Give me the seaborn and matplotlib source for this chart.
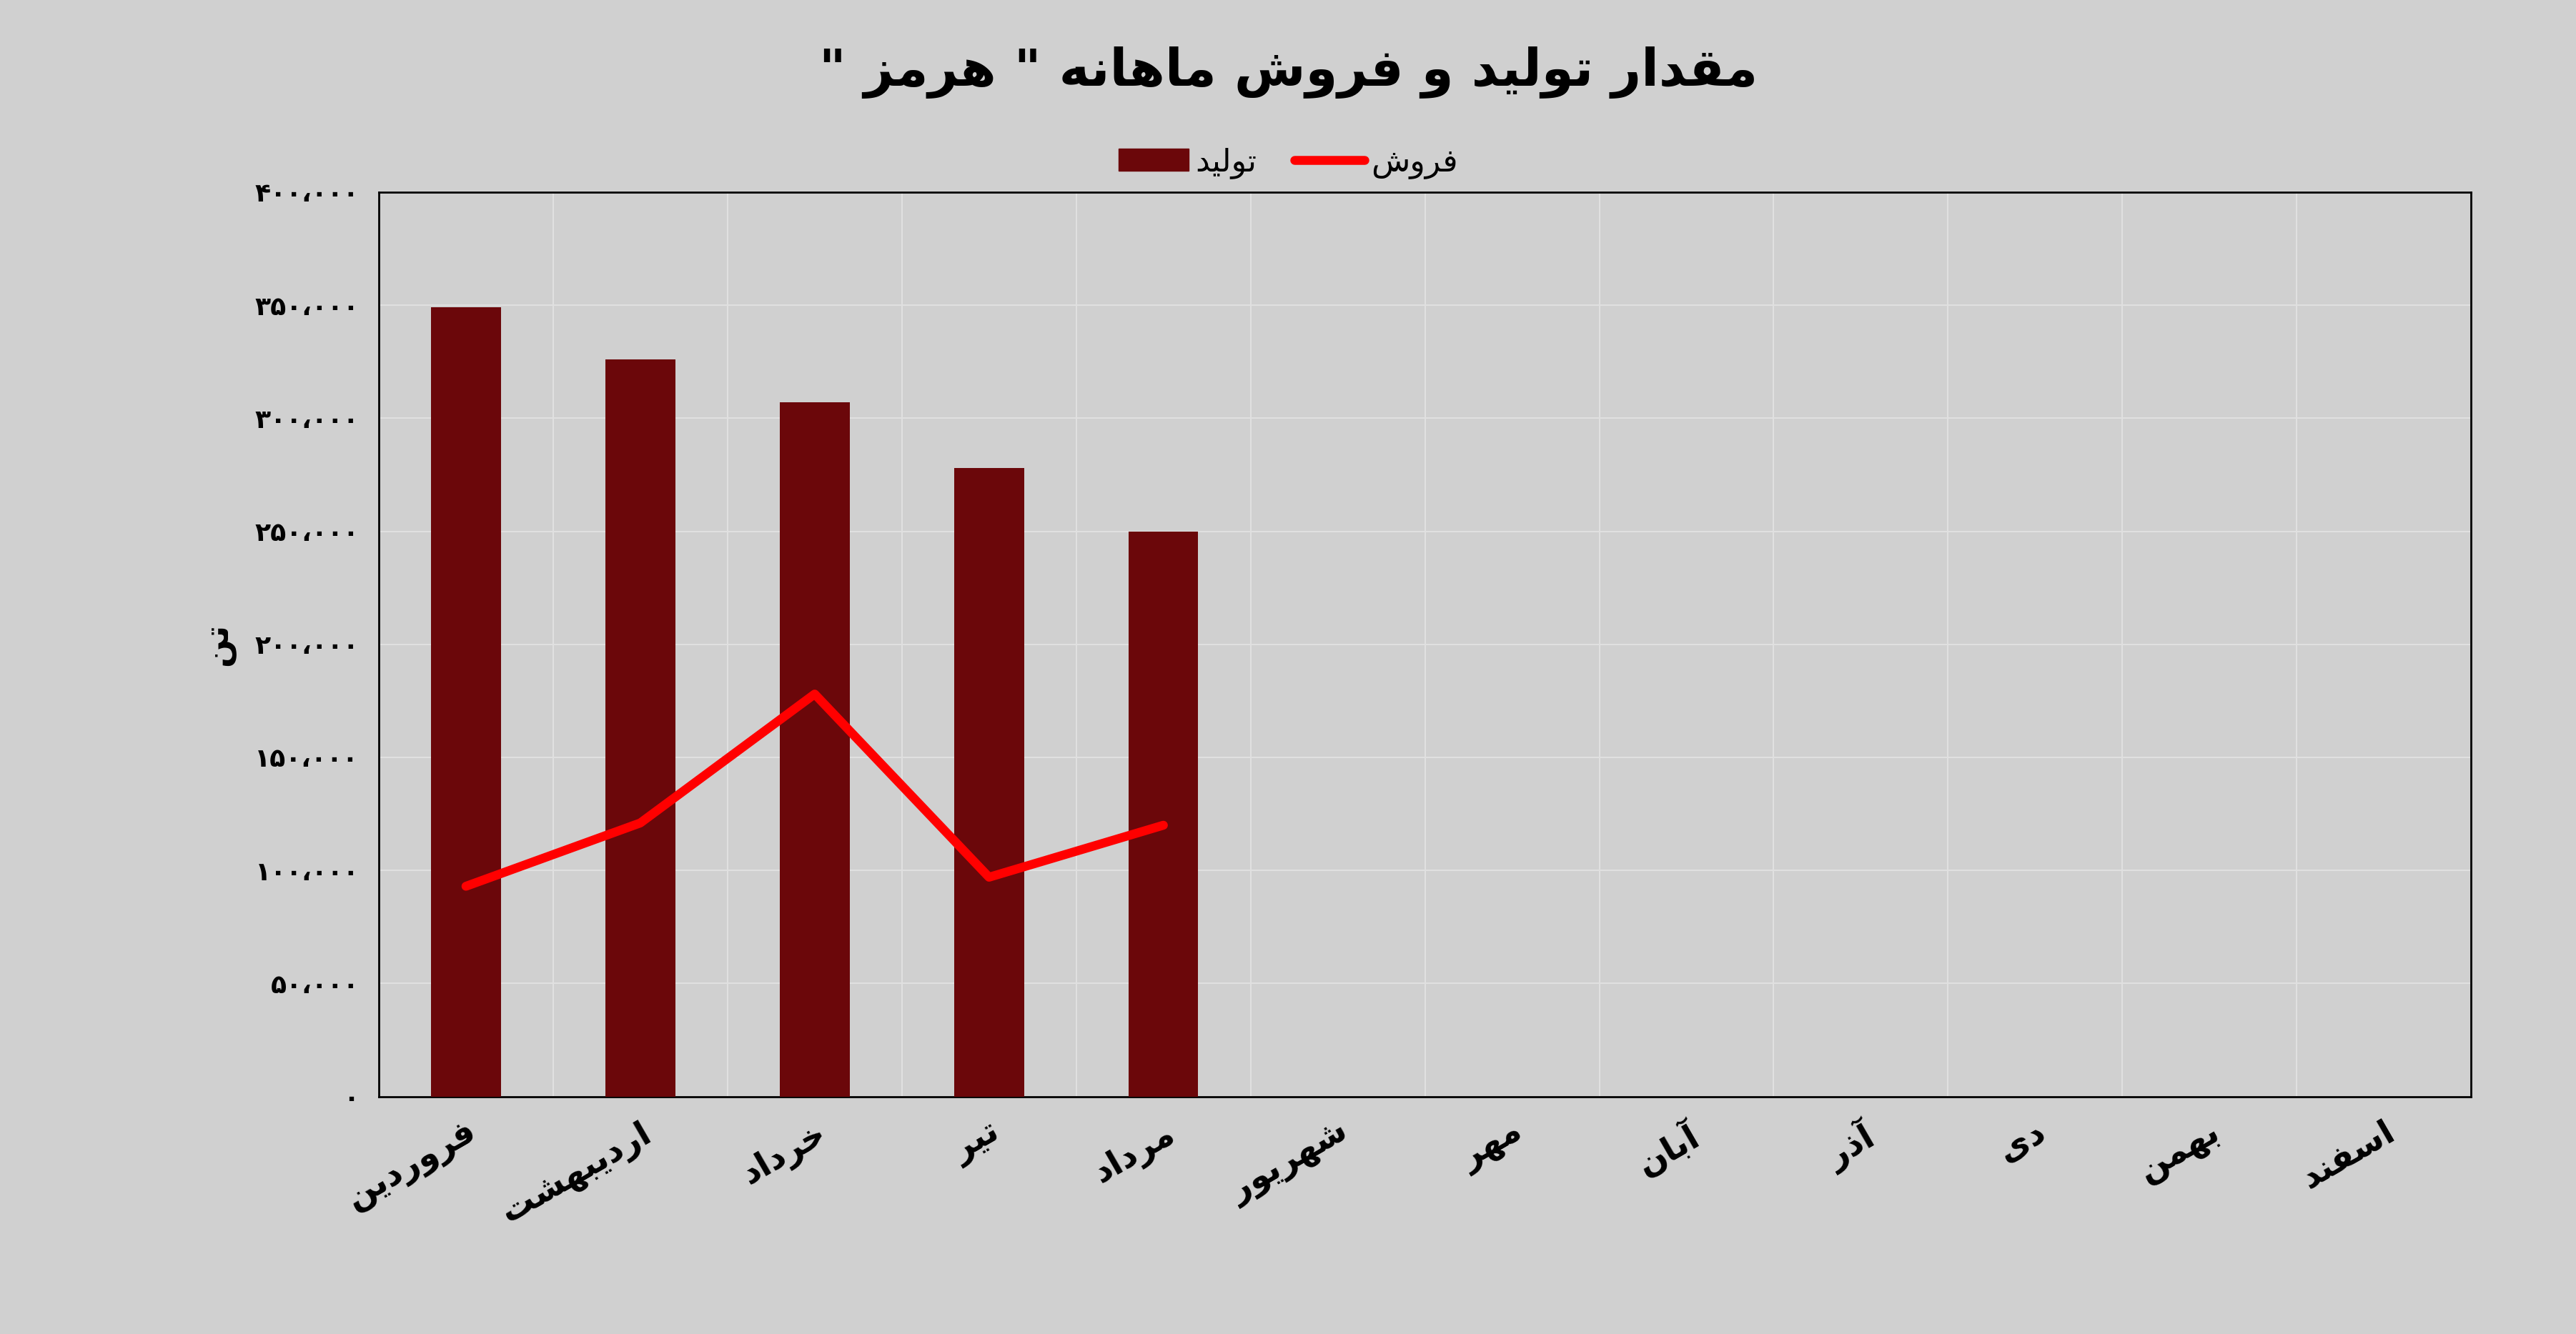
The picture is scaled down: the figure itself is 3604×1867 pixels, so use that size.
import numpy as np
import pandas as pd
import seaborn as sns
import matplotlib.pyplot as plt

# Persian text shaping without external libs: presentation forms + RTL reversal
FORMS = {
    '\u0627': ('\ufe8d', '\ufe8e', None, None),
    '\u0622': ('\ufe81', '\ufe82', None, None),
    '\u0628': ('\ufe8f', '\ufe90', '\ufe91', '\ufe92'),
    '\u062a': ('\ufe95', '\ufe96', '\ufe97', '\ufe98'),
    '\u062e': ('\ufea5', '\ufea6', '\ufea7', '\ufea8'),
    '\u062f': ('\ufea9', '\ufeaa', None, None),
    '\u0630': ('\ufeab', '\ufeac', None, None),
    '\u0631': ('\ufead', '\ufeae', None, None),
    '\u0632': ('\ufeaf', '\ufeb0', None, None),
    '\u0633': ('\ufeb1', '\ufeb2', '\ufeb3', '\ufeb4'),
    '\u0634': ('\ufeb5', '\ufeb6', '\ufeb7', '\ufeb8'),
    '\u0641': ('\ufed1', '\ufed2', '\ufed3', '\ufed4'),
    '\u0642': ('\ufed5', '\ufed6', '\ufed7', '\ufed8'),
    '\u0644': ('\ufedd', '\ufede', '\ufedf', '\ufee0'),
    '\u0645': ('\ufee1', '\ufee2', '\ufee3', '\ufee4'),
    '\u0646': ('\ufee5', '\ufee6', '\ufee7', '\ufee8'),
    '\u0647': ('\ufee9', '\ufeea', '\ufeeb', '\ufeec'),
    '\u0648': ('\ufeed', '\ufeee', None, None),
    '\u06cc': ('\ufbfc', '\ufbfd', '\ufbfe', '\ufbff'),
    '\u064a': ('\ufbfc', '\ufbfd', '\ufbfe', '\ufbff'),
}


def fa(text):
    out = []
    n = len(text)
    for i, c in enumerate(text):
        if c not in FORMS:
            out.append(c)
            continue
        f = FORMS[c]
        prev = text[i - 1] if i > 0 else ''
        nxt = text[i + 1] if i < n - 1 else ''
        jp = prev in FORMS and FORMS[prev][2] is not None
        jn = nxt in FORMS and f[2] is not None
        if jp and jn:
            out.append(f[3])
        elif jp:
            out.append(f[1])
        elif jn:
            out.append(f[2])
        else:
            out.append(f[0])
    return ''.join(out)[::-1]


def fa_num(v):
    s = f"{int(v):,}".replace(',', '\u060c')
    return s.translate(str.maketrans('0123456789', '۰۱۲۳۴۵۶۷۸۹'))


months = ['فروردین', 'اردیبهشت', 'خرداد', 'تیر', 'مرداد', 'شهریور',
          'مهر', 'آبان', 'آذر', 'دی', 'بهمن', 'اسفند']
production = [349000, 326000, 307000, 278000, 250000, np.nan, np.nan,
              np.nan, np.nan, np.nan, np.nan, np.nan]
sales = [93000, 121000, 178000, 97000, 120000, np.nan, np.nan,
         np.nan, np.nan, np.nan, np.nan, np.nan]
title = 'مقدار تولید و فروش ماهانه " هرمز "'

df = pd.DataFrame({'month': months, 'prod': production, 'sales': sales})

bg = '#d0d0d0'
sns.set_theme(style='white')
plt.rcParams['font.family'] = ['DejaVu Sans']
plt.rcParams['text.color'] = 'black'

fig = plt.figure(figsize=(36.05, 18.67), dpi=100, facecolor=bg)
ax = fig.add_axes([0.147, 0.178, 0.812, 0.678])
ax.set_facecolor(bg)

sns.barplot(data=df, x='month', y='prod', color='#6b070a', width=0.4,
            saturation=1, ax=ax, zorder=3, linewidth=0)
ax.plot(np.arange(len(months)), df['sales'], color='#ff0000', lw=9,
        zorder=4, solid_capstyle='round')

ax.set_ylim(0, 400000)
ax.set_xlim(-0.5, 11.5)
yt = np.arange(0, 400001, 50000)
ax.set_yticks(yt)
ax.set_yticklabels([fa_num(v) for v in yt], fontsize=26, fontweight='bold', color='black')
ax.set_xticks(np.arange(len(months)))
ax.set_xticklabels([fa(m) for m in months], rotation=30, ha='right',
                   rotation_mode='anchor', fontsize=34, fontweight='bold', color='black')
ax.set_xticks(np.arange(len(months)) + 0.5, minor=True)
ax.grid(True, which='minor', axis='x', color='#e0e0e0', lw=1.5, zorder=0)
ax.grid(True, which='major', axis='y', color='#e0e0e0', lw=1.5, zorder=0)
ax.grid(False, which='major', axis='x')
ax.tick_params(axis='x', which='both', length=0, pad=20)
ax.tick_params(axis='y', length=0, pad=20)
for s in ax.spines.values():
    s.set_color('black')
    s.set_linewidth(2)

ax.set_xlabel('')
ax.set_ylabel(fa('تن'), fontsize=34, fontweight='bold', labelpad=20, color='black')

bar_handle = plt.Rectangle((0, 0), 1, 1, color='#6b070a')
line_handle = plt.Line2D([], [], color='#ff0000', lw=9)
fig.legend([bar_handle, line_handle], [fa('تولید'), fa('فروش')],
           loc='center', bbox_to_anchor=(0.5, 0.878), ncol=2, frameon=False,
           fontsize=32, handlelength=2.2, handletextpad=0.2, columnspacing=1.2)
fig.suptitle(fa(title), fontsize=52, fontweight='bold', y=0.965, color='black')

fig.savefig('out.png', dpi=100, facecolor=bg)
